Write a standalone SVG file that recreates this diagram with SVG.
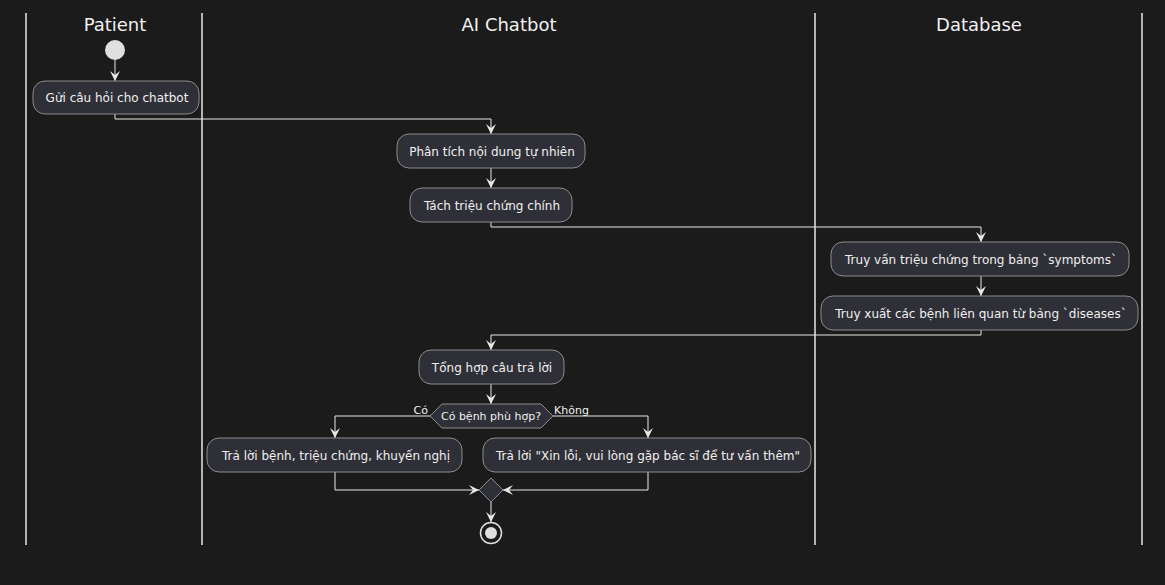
<svg xmlns="http://www.w3.org/2000/svg" width="1165" height="585" viewBox="0 0 1165 585">
<defs>
<style>
.bg{fill:#1b1b1b}
.lane{stroke:#e8e8e8;stroke-width:1.5}
.title{font-family:"DejaVu Sans",sans-serif;font-size:18px;fill:#f0f0f0;text-anchor:middle}
.box{fill:#2f2f37;stroke:#8c8c8c;stroke-width:1}
.t{font-family:"DejaVu Sans",sans-serif;font-size:12px;fill:#f0f0f0;text-anchor:middle}
.s{font-family:"DejaVu Sans",sans-serif;font-size:11px;fill:#f0f0f0}
.line{fill:none;stroke:#e8e8e8;stroke-width:1}
</style>
<marker id="arr" viewBox="0 0 10 10" refX="10" refY="5" markerWidth="10" markerHeight="10" markerUnits="userSpaceOnUse" orient="auto">
<path d="M0,0 L10,5 L0,10 L4,5 Z" fill="#e8e8e8"/>
</marker>
</defs>
<rect class="bg" x="0" y="0" width="1165" height="585"/>
<g id="lanes">
<line class="lane" x1="26" y1="13" x2="26" y2="545"/>
<line class="lane" x1="202" y1="13" x2="202" y2="545"/>
<line class="lane" x1="815" y1="13" x2="815" y2="545"/>
<line class="lane" x1="1142" y1="13" x2="1142" y2="545"/>
<text class="title" x="115" y="31">Patient</text>
<text class="title" x="509" y="31">AI Chatbot</text>
<text class="title" x="979" y="31">Database</text>
</g>
<g id="connectors">
<path class="line" d="M115,60 L115,81" marker-end="url(#arr)"/>
<path class="line" d="M115,114 L115,119 L491,119 L491,134" marker-end="url(#arr)"/>
<path class="line" d="M491,168 L491,188" marker-end="url(#arr)"/>
<path class="line" d="M491,222 L491,227 L981,227 L981,242" marker-end="url(#arr)"/>
<path class="line" d="M981,276 L981,296" marker-end="url(#arr)"/>
<path class="line" d="M981,330 L981,335 L491,335 L491,350" marker-end="url(#arr)"/>
<path class="line" d="M491,384 L491,404" marker-end="url(#arr)"/>
<path class="line" d="M430,416 L335,416 L335,438" marker-end="url(#arr)"/>
<path class="line" d="M553,416 L648,416 L648,438" marker-end="url(#arr)"/>
<path class="line" d="M335,472 L335,490 L479,490" marker-end="url(#arr)"/>
<path class="line" d="M648,472 L648,490 L503,490" marker-end="url(#arr)"/>
<path class="line" d="M491,502 L491,522" marker-end="url(#arr)"/>
<text class="s" x="428" y="414" text-anchor="end">Có</text>
<text class="s" x="554" y="414">Không</text>
</g>
<g id="start"><circle cx="115" cy="50" r="10" fill="#e0e0e0"/></g>
<g id="n1"><rect class="box" x="33" y="81" width="166" height="33" rx="12"/><text class="t" x="117" y="102">Gửi câu hỏi cho chatbot</text></g>
<g id="n2"><rect class="box" x="397" y="134" width="188" height="34" rx="12"/><text class="t" x="492" y="156">Phân tích nội dung tự nhiên</text></g>
<g id="n3"><rect class="box" x="410" y="188" width="162" height="34" rx="12"/><text class="t" x="492" y="210">Tách triệu chứng chính</text></g>
<g id="n4"><rect class="box" x="831" y="242" width="298" height="34" rx="12"/><text class="t" x="981" y="264">Truy vấn triệu chứng trong bảng `symptoms`</text></g>
<g id="n5"><rect class="box" x="821" y="296" width="317" height="34" rx="12"/><text class="t" x="981" y="318">Truy xuất các bệnh liên quan từ bảng `diseases`</text></g>
<g id="n6"><rect class="box" x="419" y="350" width="145" height="34" rx="12"/><text class="t" x="492" y="372">Tổng hợp câu trả lời</text></g>
<g id="d1"><polygon class="box" points="430,416 442,404 541,404 553,416 541,428 442,428"/><text class="s" x="491" y="420" text-anchor="middle">Có bệnh phù hợp?</text></g>
<g id="n7"><rect class="box" x="207" y="438" width="255" height="34" rx="12"/><text class="t" x="336" y="460">Trả lời bệnh, triệu chứng, khuyến nghị</text></g>
<g id="n8"><rect class="box" x="483" y="438" width="328" height="34" rx="12"/><text class="t" x="648" y="460">Trả lời "Xin lỗi, vui lòng gặp bác sĩ để tư vấn thêm"</text></g>
<g id="merge"><polygon class="box" points="491,478 503,490 491,502 479,490"/></g>
<g id="end"><circle cx="491" cy="533" r="10.5" fill="none" stroke="#e0e0e0" stroke-width="1.5"/><circle cx="491" cy="533" r="6" fill="#e0e0e0"/></g>
</svg>
